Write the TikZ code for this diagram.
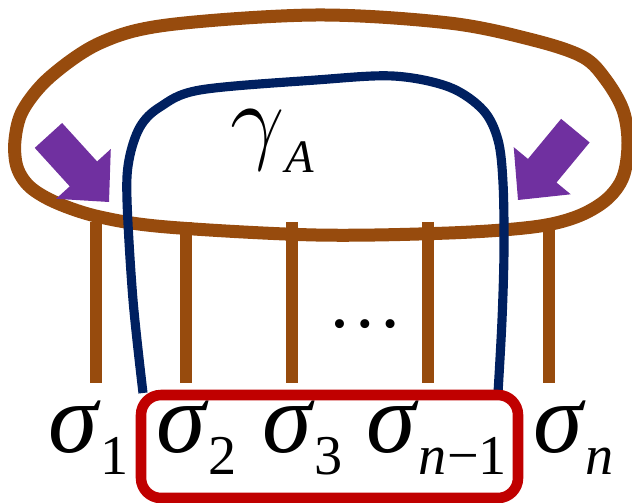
\documentclass[tikz,border=0pt]{standalone}
\usepackage{fontspec}
\setmainfont{Liberation Serif}
\usepackage{tikz}
\usetikzlibrary{positioning}

\definecolor{loopbrown}{RGB}{151,75,13}
\definecolor{pathblue}{RGB}{0,32,96}
\definecolor{boxred}{RGB}{192,0,0}
\definecolor{pushpurple}{RGB}{112,48,160}

% sigma with a lowered subscript
\newcommand{\spinlab}[1]{\textit{σ}\raisebox{-13pt}{\fontsize{32}{32}\selectfont #1}}

\tikzset{
  spin/.style={font=\fontsize{57}{60}\selectfont, inner sep=0pt, anchor=base west},
  leg/.style={loopbrown, line width=6.8pt},
  outerloop/.style={loopbrown, line width=7.4pt},
  gammapath/.style={pathblue, line width=5.2pt},
  group/.style={boxred, line width=6pt, rounded corners=0.4cm},
  push/.style={fill=pushpurple}
}

\begin{document}
\begin{tikzpicture}[x=0.02cm, y=-0.02cm]
\useasboundingbox (0,0) rectangle (632,503);

% legs
\foreach \x in {96,186,292,428,549}
  \draw[leg] (\x,222) -- (\x,383);

% outer loop
\draw[outerloop] plot[smooth cycle, tension=0.55] coordinates {
  (316,15) (449,23) (533,40) (583,57) (606,80) (623,110) (628,143) (623,177)
  (606,200) (576,217) (533,227) (449,233) (316,235) (167,227) (100,217)
  (57,203) (30,187) (17,167) (15,140) (23,110) (50,77) (100,43) (167,25)};

% gamma_A path
\draw[gammapath] plot[smooth, tension=0.55] coordinates {
  (143,393) (133,300) (127,200) (129,160) (140,127) (160,107) (200,90)
  (316,80) (393,76) (449,87) (483,110) (498,140) (503,183) (504,250)
  (502,320) (498,393)};

% arrows
\begin{scope}[shift={(109,202)}, rotate=-47.7]
  \fill[push] (0,0) -- (-38,-37) -- (-38,-18.5) -- (-90,-18.5) -- (-90,18.5) -- (-38,18.5) -- (-38,37) -- cycle;
\end{scope}
\begin{scope}[shift={(518,200)}, rotate=-129.6]
  \fill[push] (0,0) -- (-38,-37) -- (-38,-18.5) -- (-90,-18.5) -- (-90,18.5) -- (-38,18.5) -- (-38,37) -- cycle;
\end{scope}

% labels
\node[spin, font=\Huge, scale=2.21] (gam) at (230,152) {$\gamma$\raisebox{-5.4pt}{\fontsize{12}{12}\selectfont\textit{A}}};
\node[spin, font=\fontsize{43}{43}\selectfont, anchor=base] (dots) at (365,327) {…};

\node[spin] (s1) at (48,452) {\spinlab{1}};
\node[spin] (s2) at (156,452) {\spinlab{2}};
\node[spin] (s3) at (262,452) {\spinlab{3}};
\node[spin] (snm) at (366,452) {\spinlab{\textit{n}−1}};
\node[spin] (sn) at (533,452) {\spinlab{\textit{n}}};

% box
\draw[group] (141,395) rectangle (518,498);

\end{tikzpicture}
\end{document}
